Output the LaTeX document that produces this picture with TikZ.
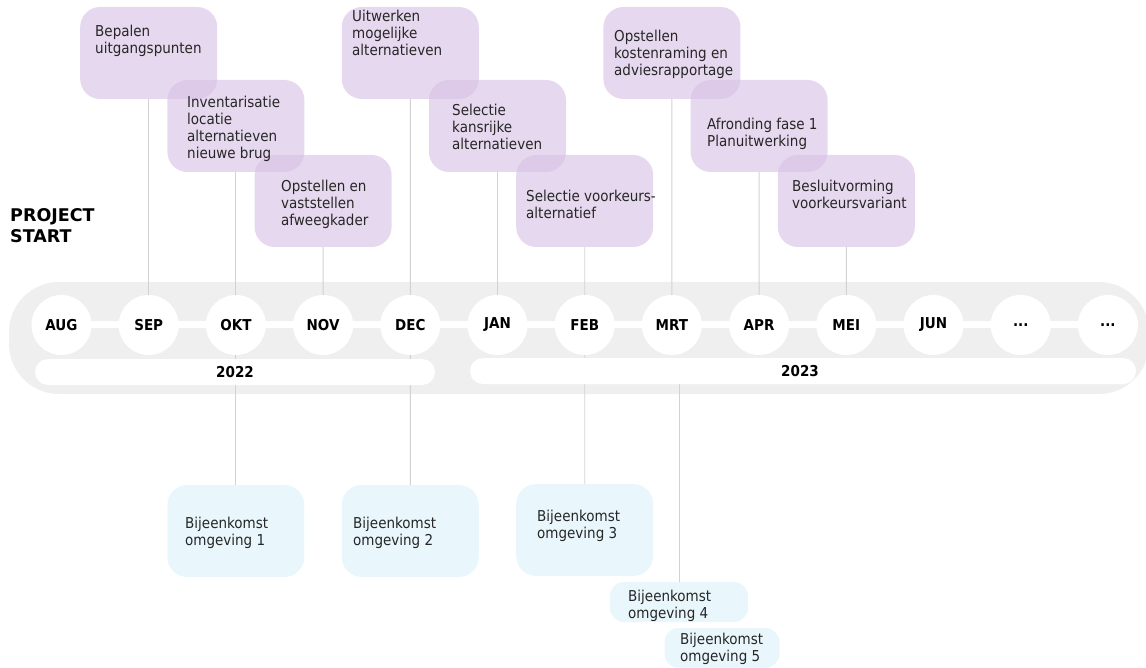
\documentclass[tikz,border=0pt]{standalone}
\usepackage{fontspec}
\setmainfont{DejaVu Sans Condensed}
\newfontfamily\wideboldfont{DejaVu Sans}[BoldFont={DejaVu Sans Bold}]
\definecolor{purpfill}{HTML}{D6BFE4}
\definecolor{bluefill}{HTML}{E9F7FD}
\definecolor{bandcol}{HTML}{EFEFEF}
\definecolor{linecol}{HTML}{D2D2D2}
\definecolor{textcol}{HTML}{262626}
\tikzset{
  pbox/.style={fill=purpfill, fill opacity=0.6, rounded corners=20pt, minimum width=137pt, minimum height=92pt, inner sep=0pt},
  bbox/.style={fill=bluefill, rounded corners=20pt, minimum width=137pt, minimum height=92pt, inner sep=0pt},
  sbox/.style={fill=bluefill, rounded corners=14pt, minimum width=138pt, minimum height=40pt, inner sep=0pt},
  txt/.style={anchor=north west, align=left, font=\fontsize{15}{17}\selectfont, text=textcol, inner sep=0pt},
  month/.style={circle, fill=white, minimum size=60pt, inner sep=0pt, font=\bfseries\fontsize{15}{17}\selectfont, text=black},
  yearbar/.style={fill=white, rounded corners=13pt, minimum height=26pt, inner sep=0pt},
  yeartxt/.style={font=\bfseries\fontsize{15}{17}\selectfont, text=black, inner sep=0pt},
  link/.style={draw=linecol, line width=0.9pt},
}
\begin{document}
\begin{tikzpicture}[x=1pt,y=-1pt]
\useasboundingbox (0,0) rectangle (1146,668);
% band
\node[fill=bandcol, rounded corners=50pt, minimum width=1140pt, minimum height=112pt, inner sep=0pt] (band) at (579,338) {};
% month coordinates
\foreach \n/\i in {1/0,2/1,3/2,4/3,5/4,6/5,7/6,8/7,9/8,10/9,11/10,12/11,13/12}{
  \coordinate (mc\n) at ({61.5+87.2*\i},325);
}
% purple boxes
\node[pbox] (p1) at (148.7,53) {};
\node[pbox] (p2) at (235.9,126) {};
\node[pbox] (p3) at (323.1,201) {};
\node[pbox] (p4) at (410.3,53) {};
\node[pbox] (p5) at (497.5,126) {};
\node[pbox] (p6) at (584.7,201) {};
\node[pbox] (p7) at (671.9,53) {};
\node[pbox] (p8) at (759.1,126) {};
\node[pbox] (p9) at (846.3,201) {};
% blue boxes
\node[bbox] (b1) at (235.9,531) {};
\node[bbox] (b2) at (410.3,531) {};
\node[bbox] (b3) at (584.7,530) {};
\node[sbox] (b4) at (679,602) {};
\node[sbox, minimum width=115pt] (b5) at (722,648) {};
\coordinate (c4) at (679,371);
% connectors
\draw[link] (p1.south) -- (mc2);
\draw[link] (p2.south) -- (mc3);
\draw[link] (p3.south) -- (mc4);
\draw[link] (p4.south) -- (mc5);
\draw[link] (p5.south) -- (mc6);
\draw[link] (p6.south) -- (mc7);
\draw[link] (p7.south) -- (mc8);
\draw[link] (p8.south) -- (mc9);
\draw[link] (p9.south) -- (mc10);
\draw[link] (mc3) -- (b1.north);
\draw[link] (mc5) -- (b2.north);
\draw[link] (mc7) -- (b3.north);
\draw[link] (c4) -- (b4.north);
% year bars
\node[yearbar, minimum width=400pt] (y22) at (235,372) {};
\node[yearbar, minimum width=666pt] (y23) at (803,371) {};
\node[yeartxt] (t22) at (235,372) {2022};
\node[yeartxt] (t23) at (800,371) {2023};
% white link line
\draw[white, line width=7pt] (mc1) -- (mc13);
% months
\node[month] (m1) at (mc1) {AUG};
\node[month] (m2) at (mc2) {SEP};
\node[month] (m3) at (mc3) {OKT};
\node[month] (m4) at (mc4) {NOV};
\node[month] (m5) at (mc5) {DEC};
\node[month] (m6) at (mc6) {JAN};
\node[month] (m7) at (mc7) {FEB};
\node[month] (m8) at (mc8) {MRT};
\node[month] (m9) at (mc9) {APR};
\node[month] (m10) at (mc10) {MEI};
\node[month] (m11) at (mc11) {JUN};
\node[month] (m12) at (mc12) {...};
\node[month] (m13) at (mc13) {...};
% texts
\node[txt] (t1) at (95,25) {Bepalen\\uitgangspunten};
\node[txt] (t2) at (187,96) {Inventarisatie\\locatie\\alternatieven\\nieuwe brug};
\node[txt] (t3) at (281,180) {Opstellen en\\vaststellen\\afweegkader};
\node[txt] (t4) at (352,10) {Uitwerken\\mogelijke\\alternatieven};
\node[txt] (t5) at (452,104) {Selectie\\kansrijke\\alternatieven};
\node[txt] (t6) at (526,190) {Selectie voorkeurs-\\alternatief};
\node[txt] (t7) at (614,30) {Opstellen\\kostenraming en\\adviesrapportage};
\node[txt] (t8) at (707,118) {Afronding fase 1\\Planuitwerking};
\node[txt] (t9) at (792,180) {Besluitvorming\\voorkeursvariant};
\node[txt] (u1) at (185,517) {Bijeenkomst\\omgeving 1};
\node[txt] (u2) at (353,517) {Bijeenkomst\\omgeving 2};
\node[txt] (u3) at (537,510) {Bijeenkomst\\omgeving 3};
\node[txt] (u4) at (628,590) {Bijeenkomst\\omgeving 4};
\node[txt] (u5) at (680,633) {Bijeenkomst\\omgeving 5};
\node[txt, font=\wideboldfont\bfseries\fontsize{17.5}{21}\selectfont, text=black] (ps) at (10,208) {PROJECT\\START};
\end{tikzpicture}
\end{document}
